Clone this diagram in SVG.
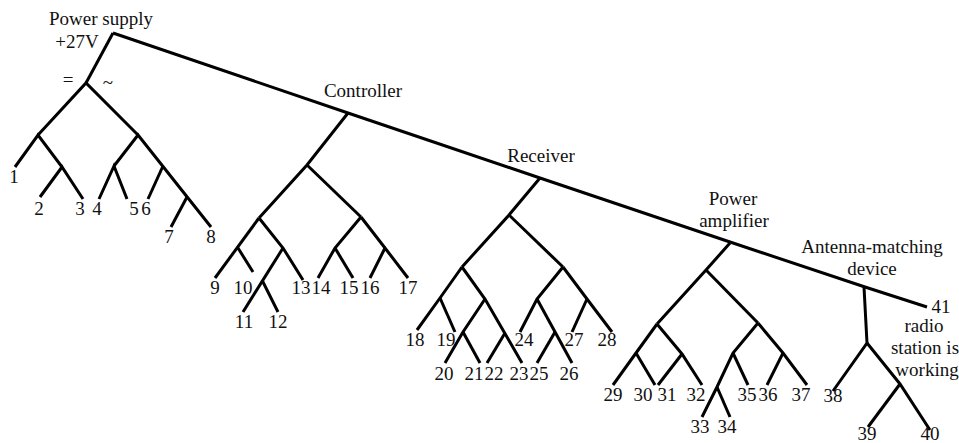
<svg xmlns="http://www.w3.org/2000/svg" width="959" height="443" viewBox="0 0 959 443">
<style>
.ln{fill:none;stroke:#000;stroke-width:3;stroke-linecap:butt;stroke-linejoin:miter}
.t{font-size:19px;fill:#111;text-anchor:middle}
</style>
<rect width="959" height="443" fill="#fff"/>
<g id="connectors" class="ln">
<polyline points="113,33 348,113 540,178 730,242 865,287 927,307"/>
<polyline points="113,33 86,83"/>
<polyline points="38,135 86,83 138,135"/>
<polyline points="15,167 38,135 62,167"/>
<polyline points="40,197 62,167 83,199"/>
<polyline points="114,166 138,135 211,227"/>
<polyline points="99,199 114,166 127,199"/>
<polyline points="163,166 148,199"/>
<polyline points="187,197 171,227"/>
<polyline points="348,113 307,165 259,218"/>
<polyline points="307,165 361,217"/>
<polyline points="259,218 215,278"/>
<polyline points="238,248 253,272"/>
<polyline points="259,218 283,248 303,280"/>
<polyline points="283,248 243,312"/>
<polyline points="262,280 278,312"/>
<polyline points="361,217 335,248 318,278"/>
<polyline points="335,248 353,278"/>
<polyline points="361,217 385,248 408,278"/>
<polyline points="385,248 370,278"/>
<polyline points="540,178 509,215 462,267"/>
<polyline points="509,215 563,267"/>
<polyline points="462,267 440,298 417,330"/>
<polyline points="440,298 455,332"/>
<polyline points="462,267 485,299 522,363"/>
<polyline points="485,299 463,332 445,363"/>
<polyline points="463,332 480,363"/>
<polyline points="505,333 487,363"/>
<polyline points="563,267 537,299 520,332"/>
<polyline points="537,299 572,363"/>
<polyline points="555,332 537,363"/>
<polyline points="563,267 587,299 612,332"/>
<polyline points="587,299 572,332"/>
<polyline points="730,243 706,270 657,324"/>
<polyline points="706,270 758,323"/>
<polyline points="657,324 636,353 613,385"/>
<polyline points="636,353 655,385"/>
<polyline points="657,324 682,354 702,385"/>
<polyline points="682,354 658,385"/>
<polyline points="758,323 733,353 717,387 702,417"/>
<polyline points="717,387 730,417"/>
<polyline points="733,353 748,385"/>
<polyline points="758,323 783,353 807,385"/>
<polyline points="783,353 767,385"/>
<polyline points="864,287 867,343 833,391"/>
<polyline points="867,343 900,384 930,430"/>
<polyline points="900,384 868,427"/>
</g>
<g class="t" font-family="'Liberation Serif', 'Times New Roman', Times, Tinos, 'Nimbus Roman', 'DejaVu Serif', 'Noto Serif', FreeSerif, serif">
<g id="power-supply"><text x="101" y="25">Power supply</text><text x="77" y="48">+27V</text><text x="68" y="86">=</text><text x="108" y="89">~</text></g>
<g id="controller"><text x="363" y="97">Controller</text></g>
<g id="receiver"><text x="541" y="162">Receiver</text></g>
<g id="power-amplifier"><text x="733" y="205">Power</text><text x="734" y="227">amplifier</text></g>
<g id="antenna-matching"><text x="872" y="253">Antenna-matching</text><text x="872" y="275">device</text></g>
<g id="leaf-41"><text x="941" y="313">41</text><text x="924" y="332">radio</text><text x="925" y="354">station is</text><text x="927" y="376">working</text></g>
<g id="leaf-1"><text x="14" y="183">1</text></g>
<g id="leaf-2"><text x="39" y="215">2</text></g>
<g id="leaf-3"><text x="80" y="215">3</text></g>
<g id="leaf-4"><text x="97" y="215">4</text></g>
<g id="leaf-5"><text x="134" y="215">5</text></g>
<g id="leaf-6"><text x="146" y="215">6</text></g>
<g id="leaf-7"><text x="169" y="243">7</text></g>
<g id="leaf-8"><text x="211" y="243">8</text></g>
<g id="leaf-9"><text x="215" y="294">9</text></g>
<g id="leaf-10"><text x="243" y="294">10</text></g>
<g id="leaf-11"><text x="244" y="328">11</text></g>
<g id="leaf-12"><text x="278" y="328">12</text></g>
<g id="leaf-13"><text x="301" y="294">13</text></g>
<g id="leaf-14"><text x="321" y="294">14</text></g>
<g id="leaf-15"><text x="349" y="294">15</text></g>
<g id="leaf-16"><text x="370" y="294">16</text></g>
<g id="leaf-17"><text x="408" y="294">17</text></g>
<g id="leaf-18"><text x="415" y="346">18</text></g>
<g id="leaf-19"><text x="446" y="346">19</text></g>
<g id="leaf-20"><text x="444" y="380">20</text></g>
<g id="leaf-21"><text x="474" y="380">21</text></g>
<g id="leaf-22"><text x="494" y="380">22</text></g>
<g id="leaf-23"><text x="519" y="380">23</text></g>
<g id="leaf-24"><text x="524" y="346">24</text></g>
<g id="leaf-25"><text x="539" y="380">25</text></g>
<g id="leaf-26"><text x="569" y="380">26</text></g>
<g id="leaf-27"><text x="574" y="346">27</text></g>
<g id="leaf-28"><text x="607" y="346">28</text></g>
<g id="leaf-29"><text x="613" y="401">29</text></g>
<g id="leaf-30"><text x="643" y="401">30</text></g>
<g id="leaf-31"><text x="667" y="401">31</text></g>
<g id="leaf-32"><text x="696" y="401">32</text></g>
<g id="leaf-33"><text x="700" y="433">33</text></g>
<g id="leaf-34"><text x="727" y="433">34</text></g>
<g id="leaf-35"><text x="747" y="401">35</text></g>
<g id="leaf-36"><text x="768" y="401">36</text></g>
<g id="leaf-37"><text x="801" y="401">37</text></g>
<g id="leaf-38"><text x="833" y="402">38</text></g>
<g id="leaf-39"><text x="867" y="440">39</text></g>
<g id="leaf-40"><text x="930" y="440">40</text></g>
</g>
</svg>
